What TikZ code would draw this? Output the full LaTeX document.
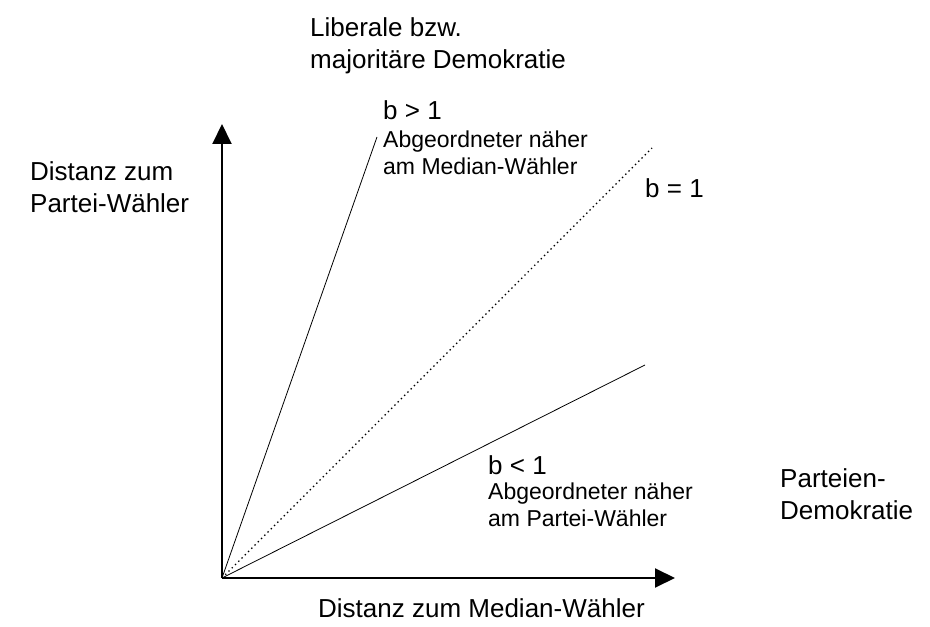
\documentclass[tikz,border=0pt]{standalone}
\usepackage{fontspec}
\setmainfont{Liberation Sans}
\usetikzlibrary{arrows.meta}

\begin{document}
\begin{tikzpicture}[x=1pt,y=1pt,
    axis/.style={line width=2pt,-{Triangle[length=20pt,width=19pt]}},
    big/.style={anchor=west,inner sep=0pt,align=left,font=\fontsize{26}{32}\selectfont},
    small/.style={anchor=west,inner sep=0pt,align=left,font=\fontsize{23}{26.5}\selectfont}]
  \useasboundingbox (-222,-49) rectangle (708,578);
  \coordinate (O) at (0,0);
  \coordinate (ytip) at (0,454);
  \coordinate (xtip) at (453,0);
  \coordinate (steep) at (155,441);
  \coordinate (even) at (430,430);
  \coordinate (flat) at (423,213);
  \draw[axis] (O) -- (ytip);
  \draw[axis] (O) -- (xtip);
  \draw[line width=0.8pt] (O) -- (steep);
  \draw[line width=1.4pt,dash pattern=on 1.4pt off 3.2pt] (O) -- (even);
  \draw[line width=0.8pt] (O) -- (flat);
  % labels
  \node[big] (lib) at (88,532) {Liberale bzw.\\majoritäre Demokratie};
  \node[big] (bgt) at (161,468) {b > 1};
  \node[small] (med) at (161,425) {Abgeordneter näher\\am Median-Wähler};
  \node[big] (beq) at (423,390) {b = 1};
  \node[big] (ylab) at (-192,391) {Distanz zum\\Partei-Wähler};
  \node[big] (blt) at (266,113) {b < 1};
  \node[small] (par) at (266,73) {Abgeordneter näher\\am Partei-Wähler};
  \node[big] (pdem) at (558,84) {Parteien-\\Demokratie};
  \node[big] (xlab) at (96,-30) {Distanz zum Median-Wähler};
\end{tikzpicture}
\end{document}
